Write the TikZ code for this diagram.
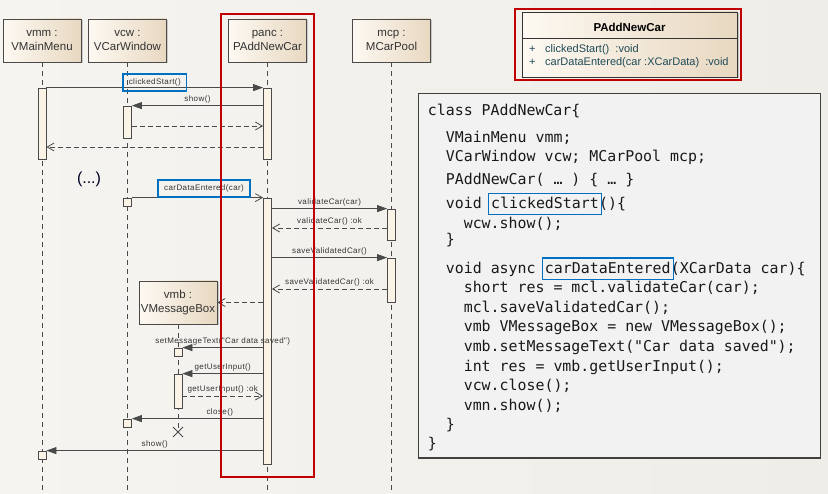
\documentclass[tikz,border=0pt]{standalone}
\usepackage{fontspec}
\setmainfont{Liberation Sans}
\newfontfamily\msgfont[LetterSpace=5]{Liberation Sans}
\newfontfamily\codefont{DejaVu Sans Mono}
\usetikzlibrary{arrows.meta,shadows,fit,positioning}
\definecolor{bgleft}{HTML}{F5F4F0}
\definecolor{bgright}{HTML}{EFEDE7}
\definecolor{hdrlight}{HTML}{FDF9F2}
\definecolor{hdrdark}{HTML}{E8D8C1}
\definecolor{barfill}{HTML}{FCF3E7}
\definecolor{linecol}{HTML}{4A4A4A}
\definecolor{hlblue}{HTML}{0070C0}
\definecolor{hlred}{HTML}{C00000}
\definecolor{codebg}{HTML}{F2F2F2}
\definecolor{membercol}{HTML}{1F4A58}
\tikzset{
  header/.style={draw=linecol, line width=0.8pt, left color=hdrlight, right color=hdrdark,
    minimum width=78pt, minimum height=43pt, align=center, inner sep=0pt,
    font=\fontsize{11.5}{13.5}\selectfont, text=black!80,
    drop shadow={shadow xshift=1.5pt, shadow yshift=-1.5pt, opacity=0.35}},
  lifeline/.style={draw=linecol, line width=0.8pt, dash pattern=on 5pt off 4pt},
  actbar/.style={draw=linecol, line width=0.8pt, fill=barfill, minimum width=8pt, inner sep=0pt},
  call/.style={draw=linecol, line width=0.8pt, -{Triangle[length=10pt,width=7pt]}},
  async/.style={draw=linecol, line width=0.8pt, -{Straight Barb[length=7pt,width=8pt]}},
  reply/.style={async, dash pattern=on 5pt off 3pt},
  destroy/.style={draw=linecol, line width=0.8pt},
  msglabel/.style={font=\msgfont\fontsize{8}{9}\selectfont, text=black!80, inner sep=1pt, above=1pt},
  hlbox/.style={draw=hlblue, line width=1.5pt, inner xsep=6pt, minimum height=17pt},
  redframe/.style={draw=hlred, line width=2.5pt, inner sep=0pt},
  classbox/.style={draw=black!80, line width=0.8pt, left color=hdrlight, right color=hdrdark,
    inner sep=0pt, drop shadow={shadow xshift=1.5pt, shadow yshift=-1.5pt, opacity=0.35}},
  member/.style={font=\fontsize{11}{13}\selectfont, text=membercol, anchor=base west, inner sep=0pt},
  codebox/.style={draw=black!75, line width=1pt, fill=codebg, inner sep=0pt,
    drop shadow={shadow xshift=1.2pt, shadow yshift=-1.2pt, opacity=0.4}},
  codeline/.style={font=\codefont\fontsize{14.9}{17}\selectfont, text=black!90, anchor=base west,
    inner sep=0pt, text height=13pt, text depth=3pt},
  codehl/.style={draw=hlblue, line width=1.5pt, inner xsep=2.5pt, inner ysep=2.5pt}
}
\begin{document}
\begin{tikzpicture}[x=1pt, y=-1pt]
\useasboundingbox (0,0) rectangle (828,494);
\fill[left color=bgleft, right color=bgright] (0,0) rectangle (828,494);

\node[header] (vmm) at (42,40.5) {vmm :\\VMainMenu};
\node[header] (vcw) at (127.5,40.5) {vcw :\\VCarWindow};
\node[header] (panc) at (267.5,40.5) {panc :\\PAddNewCar};
\node[header] (mcp) at (391.5,40.5) {mcp :\\MCarPool};
\node[header] (vmb) at (178,302.5) {vmb :\\VMessageBox};
\coordinate (vmbend) at (178,432);
\draw[lifeline] (vmm.south) -- (vmm.south |- 0,492);
\draw[lifeline] (vcw.south) -- (vcw.south |- 0,492);
\draw[lifeline] (panc.south) -- (panc.south |- 0,492);
\draw[lifeline] (mcp.south) -- (mcp.south |- 0,492);
\draw[lifeline] (vmb.south) -- (vmbend);

\node[actbar, minimum height=71pt] (vmm1) at (42,123.5) {};
\node[actbar, minimum height=71pt] (panc1) at (267.5,123.5) {};
\node[actbar, minimum height=32pt] (vcw1) at (127.5,122) {};
\node[actbar, minimum height=8pt] (vcw2) at (127.5,202) {};
\node[actbar, minimum height=266pt] (panc2) at (267.5,331) {};
\node[actbar, minimum height=31pt] (mcp1) at (391.5,224.5) {};
\node[actbar, minimum height=44pt] (mcp2) at (391.5,280) {};
\node[actbar, minimum height=8pt] (vmb1) at (178,352) {};
\node[actbar, minimum height=34pt] (vmb2) at (178,391) {};
\node[actbar, minimum height=8pt] (vcw3) at (127.5,423) {};
\node[actbar, minimum height=8pt] (vmm2) at (42,455) {};

\draw[call] (vmm1.north east) -- (panc1.north west) node[msglabel, hlbox, midway, above=-4pt] (lclick) {clickedStart()};
\draw[call] (panc1.west |- vcw1.north) -- (vcw1.north east) node[msglabel, midway] (lshow1) {show()};
\draw[reply] (vcw1.east |- 0,126) -- (panc1.west |- 0,126);
\draw[reply] (panc1.west |- 0,147) -- (vmm1.east |- 0,147);
\node[font=\fontsize{16}{18}\selectfont, text=black!85!blue] (etc) at (89,179) {(...)};
\draw[async] (vcw2.north east) -- (panc2.north west) node[msglabel, hlbox, pos=0.55, above=0pt] (ldata) {carDataEntered(car)};
\draw[call] (panc2.east |- mcp1.north) -- (mcp1.north west) node[msglabel, midway] (lval) {validateCar(car)};
\draw[reply] (mcp1.west |- 0,228) -- (panc2.east |- 0,228) node[msglabel, midway] (lvalok) {validateCar() :ok};
\draw[call] (panc2.east |- mcp2.north) -- (mcp2.north west) node[msglabel, midway] (lsave) {saveValidatedCar()};
\draw[reply] (mcp2.west |- 0,289) -- (panc2.east |- 0,289) node[msglabel, midway] (lsaveok) {saveValidatedCar() :ok};
\draw[reply] (panc2.west |- vmb.east) -- (vmb.east);
\draw[call] (panc2.west |- vmb1.north) -- (vmb1.north east) node[msglabel, midway] (ltext) {setMessageText("Car data saved")};
\draw[call] (panc2.west |- vmb2.north) -- (vmb2.north east) node[msglabel, midway] (linput) {getUserInput()};
\draw[reply] (vmb2.east |- 0,396) -- (panc2.west |- 0,396) node[msglabel, midway] (linputok) {getUserInput() :ok};
\draw[call] (panc2.west |- vcw3.north) -- (vcw3.north east) node[msglabel, pos=0.33] (lclose) {close()};
\draw[call] (panc2.west |- vmm2.north) -- (vmm2.north east) node[msglabel, midway] (lshow2) {show()};
\draw[destroy] ([shift={(-5pt,-5pt)}]vmbend) -- ([shift={(5pt,5pt)}]vmbend)
  ([shift={(-5pt,5pt)}]vmbend) -- ([shift={(5pt,-5pt)}]vmbend);
\node[redframe, minimum width=93pt, minimum height=463pt] (pancframe) at (267.5,245.5) {};

\node[classbox, minimum width=215pt, minimum height=65pt] (cls) at (629.5,44.5) {};
\node[font=\bfseries\fontsize{11.5}{13}\selectfont, anchor=base, inner sep=0pt] (clsname) at (629.5,31.7) {PAddNewCar};
\draw[black!80, line width=0.8pt] (cls.west |- 0,38) -- (cls.east |- 0,38);
\node[member] (m1p) at (529,52.3) {+};
\node[member] (m1) at (545,52.3) {clickedStart()\ \ :void};
\node[member] (m2p) at (529,65.7) {+};
\node[member] (m2) at (545,65.7) {carDataEntered(car :XCarData)\ \ :void};
\node[redframe, minimum width=226pt, minimum height=71pt] (clsframe) at (628,44.5) {};

\node[codebox, minimum width=402pt, minimum height=364pt] (code) at (619,276) {};
\node[codeline] (c1) at (427.7,115.7) {class PAddNewCar\{};
\node[codeline] (c2) at (445.7,142.3) {VMainMenu vmm;};
\node[codeline] (c3) at (445.7,161.7) {VCarWindow vcw; MCarPool mcp;};
\node[codeline] (c4) at (445.7,185) {PAddNewCar( … ) \{ … \}};
\node[codeline] (c5) at (445.7,209) {void\ \null};
\node[codeline] (c5w) at (c5.base east) {clickedStart};
\node[codeline] (c5r) at (c5w.base east) {()\{};
\node[codeline] (c6) at (463.6,228.3) {wcw.show();};
\node[codeline] (c7) at (445.7,245) {\}};
\node[codeline] (c8) at (445.7,273.7) {void async\ \null};
\node[codeline] (c8w) at (c8.base east) {carDataEntered};
\node[codeline] (c8r) at (c8w.base east) {(XCarData car)\{};
\node[codeline] (c9) at (463.6,292.7) {short res = mcl.validateCar(car);};
\node[codeline] (c10) at (463.6,312.3) {mcl.saveValidatedCar();};
\node[codeline] (c11) at (463.6,332) {vmb VMessageBox = new VMessageBox();};
\node[codeline] (c12) at (463.6,351.7) {vmb.setMessageText("Car data saved");};
\node[codeline] (c13) at (463.6,371.3) {int res = vmb.getUserInput();};
\node[codeline] (c14) at (463.6,390.7) {vcw.close();};
\node[codeline] (c15) at (463.6,410) {vmn.show();};
\node[codeline] (c16) at (445.7,429.3) {\}};
\node[codeline] (c17) at (427.7,448.3) {\}};
\node[codehl, fit=(c5w)] (h5) {};
\node[codehl, fit=(c8w)] (h8) {};
\end{tikzpicture}
\end{document}
